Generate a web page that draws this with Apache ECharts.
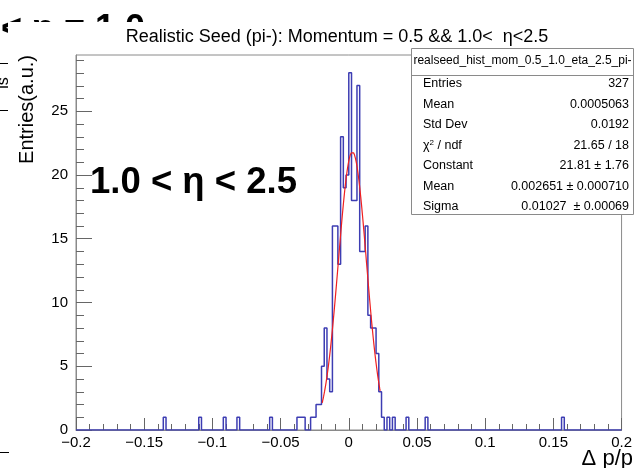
<!DOCTYPE html>
<html><head><meta charset="utf-8">
<script src="https://cdn.jsdelivr.net/npm/echarts@6/dist/echarts.min.js"></script>
<style>html,body{margin:0;padding:0;background:#fff}#c{width:635px;height:468px}</style>
</head><body><div id="c"></div>
<script>
// ---- data ----
const xMin = -0.2, xMax = 0.2, binWidth = 0.002;
const yMax = 29.4;
const xTickValues = [-0.2, -0.15, -0.1, -0.05, 0, 0.05, 0.1, 0.15, 0.2];
const xTickLabels = ['\u22120.2', '\u22120.15', '\u22120.1', '\u22120.05', '0', '0.05', '0.1', '0.15', '0.2'];
const yTickLabels = ['0', '5', '10', '15', '20', '25'];
// low edges of non-empty bins and their contents
const filledBinLowEdges = [-0.136, -0.110, -0.092, -0.082, -0.058,
  -0.038, -0.036, -0.034, -0.028, -0.026, -0.024, -0.022, -0.020, -0.018, -0.016, -0.014,
  -0.012, -0.010, -0.008, -0.006, -0.004, -0.002, 0.000, 0.002, 0.004, 0.006, 0.008, 0.010,
  0.012, 0.014, 0.016, 0.018, 0.020, 0.022, 0.024,
  0.028, 0.032, 0.042, 0.056, 0.156];
const filledBinCounts = [1, 1, 1, 1, 1,
  1, 1, 1, 1, 1, 2, 2, 5, 8, 4, 3,
  16, 16, 13, 23, 19, 20, 28, 18, 18, 27, 14, 14,
  16, 9, 8, 8, 6, 3, 1,
  1, 1, 1, 1, 1];
// gaussian fit (from the stat box)
const fitConstant = 21.81, fitMean = 0.002651, fitSigma = 0.01027;
const fitRange = [-0.0195, 0.023];
const histName = 'realseed_hist_mom_0.5_1.0_eta_2.5_pi-';
const statLabels = ['Entries', 'Mean', 'Std Dev', '\u03c7{sup|2} / ndf', 'Constant', 'Mean', 'Sigma'];
const statValues = ['327', '0.0005063', '0.0192', '21.65 / 18', '21.81 \u00b1 1.76', '0.002651 \u00b1 0.000710', '0.01027  \u00b1 0.00069'];
const titleText = 'Realistic Seed (pi-): Momentum = 0.5 && 1.0<  \u03b7<2.5';
const etaLabel = '1.0 < \u03b7 < 2.5';
const xTitle = '\u0394 p/p';
const yTitle = 'Entries(a.u.)';

// ---- build ----
const nBins = Math.round((xMax - xMin) / binWidth);
const counts = new Array(nBins).fill(0);
filledBinLowEdges.forEach((e, i) => {
  const k = Math.round((e - xMin) / binWidth);
  counts[k] = filledBinCounts[i];
});
const histPts = [];
for (let k = 0; k < nBins; k++) histPts.push([xMin + k * binWidth, counts[k]]);
histPts.push([xMax, counts[nBins - 1]]);

const fitPts = [];
const nFit = 120;
for (let i = 0; i <= nFit; i++) {
  const x = fitRange[0] + (fitRange[1] - fitRange[0]) * i / nFit;
  fitPts.push([x, fitConstant * Math.exp(-0.5 * Math.pow((x - fitMean) / fitSigma, 2))]);
}

const FONT = '"Liberation Sans", Arial, Helvetica, sans-serif';
const axisGray = '#8a8a8a';
const tickGray = '#666666';
const G = {left: 76, right: 9, top: 55, bottom: 38};

const xLabelFmt = v => {
  const i = xTickValues.findIndex(t => Math.abs(t - v) < 1e-6);
  return i >= 0 ? xTickLabels[i] : '';
};
const yLabelFmt = v => {
  const i = Math.round(v / 5);
  return (Math.abs(v - i * 5) < 1e-6 && i < yTickLabels.length) ? yTickLabels[i] : '';
};

const graphics = [];
// stray fragments from neighbouring pads (only their tops show)
graphics.push({type: 'text', z: -3, style: {text: '< \u03b7 = 1.0', x: 145, y: 12, align: 'right', verticalAlign: 'top', font: 'bold 36px ' + FONT, fill: '#000'}});
graphics.push({type: 'rect', z: -2, shape: {x: 8, y: 22, width: 640, height: 32}, style: {fill: '#fff'}});
graphics.push({type: 'line', shape: {x1: 0, y1: 63.5, x2: 8, y2: 63.5}, style: {stroke: '#000', lineWidth: 1}});
graphics.push({type: 'line', shape: {x1: 0, y1: 110.5, x2: 8, y2: 110.5}, style: {stroke: '#000', lineWidth: 1}});
graphics.push({type: 'line', shape: {x1: 0, y1: 452.5, x2: 9, y2: 452.5}, style: {stroke: '#000', lineWidth: 1}});
graphics.push({type: 'text', rotation: Math.PI / 2, x: 4, y: 83, style: {text: 'is', align: 'center', verticalAlign: 'middle', font: '16px ' + FONT, fill: '#000'}});
// title
graphics.push({type: 'text', style: {text: titleText, x: 337, y: 37, align: 'center', verticalAlign: 'middle', font: '18px ' + FONT, fill: '#000'}});
// y title
graphics.push({type: 'text', rotation: Math.PI / 2, x: 27, y: 55, style: {text: yTitle, align: 'right', verticalAlign: 'middle', font: '20px ' + FONT, fill: '#000'}});
// x title
graphics.push({type: 'text', style: {text: xTitle, x: 633, y: 459, align: 'right', verticalAlign: 'middle', font: '22px ' + FONT, fill: '#000'}});
// eta label
graphics.push({type: 'text', z: 5, style: {text: etaLabel, x: 90, y: 183, align: 'left', verticalAlign: 'middle', font: 'bold 36.5px ' + FONT, fill: '#000'}});
// stat box
const bx = 411.5, by = 48.5, bw = 222, bh = 166;
graphics.push({type: 'rect', z: 10, shape: {x: bx, y: by, width: bw, height: bh}, style: {fill: '#fff', stroke: '#8a8a8a', lineWidth: 1}});
graphics.push({type: 'line', z: 11, shape: {x1: bx, y1: 75.5, x2: bx + bw, y2: 75.5}, style: {stroke: '#8a8a8a', lineWidth: 1}});
graphics.push({type: 'text', z: 11, style: {text: histName, x: bx + bw / 2, y: 61, align: 'center', verticalAlign: 'middle', font: '12px ' + FONT, fill: '#000'}});
const rowY = [84, 104.5, 125, 145.5, 166, 186.5, 207];
statLabels.forEach((s, i) => {
  graphics.push({type: 'text', z: 11, style: {text: s, x: 423, y: rowY[i], align: 'left', verticalAlign: 'middle', font: '12.5px ' + FONT, fill: '#000',
    rich: {sup: {fontSize: 8, verticalAlign: 'top', padding: [0, 0, 6, 0], fontFamily: FONT}}}});
  graphics.push({type: 'text', z: 11, style: {text: statValues[i], x: 629, y: rowY[i], align: 'right', verticalAlign: 'middle', font: '12.5px ' + FONT, fill: '#000'}});
});

const chart = echarts.init(document.getElementById('c'), null, {renderer: 'canvas'});
chart.setOption({
  animation: false,
  backgroundColor: '#fff',
  grid: Object.assign({show: true, borderColor: axisGray, borderWidth: 1, backgroundColor: 'transparent'}, G),
  xAxis: [{
    type: 'value', min: xMin, max: xMax, interval: 0.05, position: 'bottom',
    axisLine: {show: true, onZero: false, lineStyle: {color: axisGray}},
    axisTick: {show: true, inside: true, length: 12, lineStyle: {color: tickGray, width: 1}},
    minorTick: {show: true, splitNumber: 5, length: 6, lineStyle: {color: tickGray, width: 1}},
    axisLabel: {formatter: xLabelFmt, color: '#000', fontSize: 15, fontFamily: FONT, margin: 5, showMinLabel: true, showMaxLabel: true},
    splitLine: {show: false}
  }],
  yAxis: [{
    type: 'value', min: 0, max: yMax, interval: 5, position: 'left',
    axisLine: {show: true, onZero: false, lineStyle: {color: axisGray}},
    axisTick: {show: true, inside: true, length: 16, lineStyle: {color: tickGray, width: 1}},
    axisLabel: {formatter: yLabelFmt, color: '#000', fontSize: 15, fontFamily: FONT, margin: 8, showMaxLabel: false},
    splitLine: {show: false}
  }],
  graphic: graphics,
  series: [{
    type: 'line', data: histPts, step: 'end', symbol: 'none',
    lineStyle: {color: '#3d3db3', width: 1.5}, z: 3
  }, {
    type: 'line', data: fitPts, symbol: 'none', smooth: false,
    lineStyle: {color: '#f02020', width: 1.2}, z: 4
  }]
});

// minor y-axis ticks every 1 unit, placed through the axis scale
const tickEls = [];
for (let v = 1; v <= Math.floor(yMax); v++) {
  if (v % 5 === 0) continue;
  const p = chart.convertToPixel({gridIndex: 0}, [xMin, v]);
  const y = Math.round(p[1]) + 0.5;
  tickEls.push({type: 'line', z: 100, shape: {x1: p[0], y1: y, x2: p[0] + 8, y2: y}, style: {stroke: tickGray, lineWidth: 1}});
}
chart.setOption({graphic: graphics.concat(tickEls)});
</script></body></html>
